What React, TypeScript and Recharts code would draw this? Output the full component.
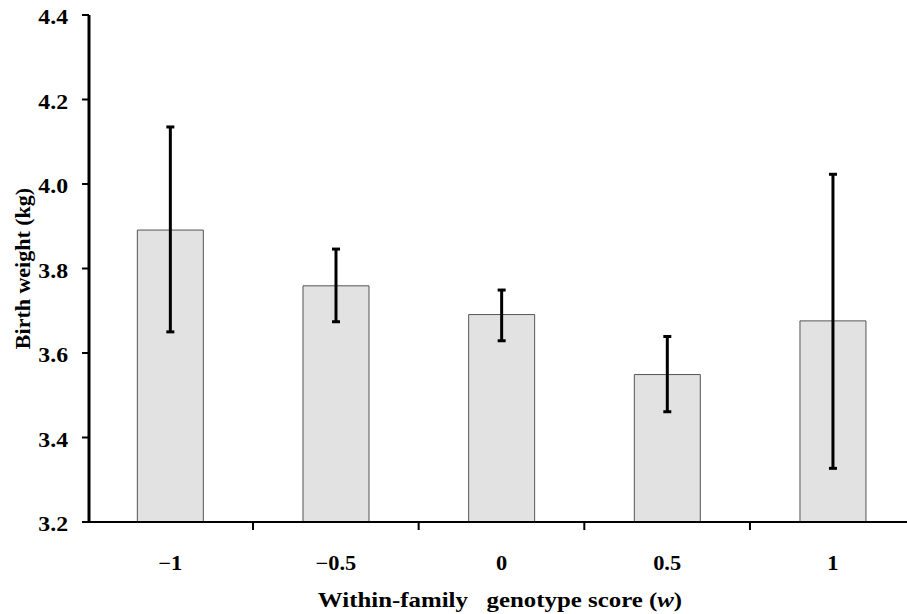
import React from 'react';
import { BarChart, Bar, XAxis, YAxis, ErrorBar, Label } from 'recharts';

const categories = [-1, -0.5, 0, 0.5, 1];
const categoryLabels = ['\u22121', '\u22120.5', '0', '0.5', '1'];
const boundaryTicks = [-0.75, -0.25, 0.25, 0.75];
const meanWeight = [3.891, 3.759, 3.691, 3.549, 3.676];
const errLow = [3.65, 3.674, 3.629, 3.461, 3.327];
const errHigh = [4.135, 3.846, 3.749, 3.639, 4.023];
const yTicks = [3.2, 3.4, 3.6, 3.8, 4.0, 4.2, 4.4];

const data = categories.map((c, i) => ({
  w: c,
  weight: meanWeight[i],
  err: [meanWeight[i] - errLow[i], errHigh[i] - meanWeight[i]],
}));

const txt: React.CSSProperties = { fontFamily: 'Liberation Serif', fontWeight: 700 };

const XTick = (props: any) => {
  const { x, y, payload } = props;
  const v = payload.value;
  const idx = categories.indexOf(v);
  if (idx < 0) {
    return <line x1={x} y1={y} x2={x} y2={y + 8} stroke="#000" strokeWidth={2} />;
  }
  return (
    <text transform={`translate(${x} ${y + 34}) scale(1.12 1)`} x={0} y={0} dy="0.71em" textAnchor="middle" style={txt} fontSize={20} fill="#000">
      {categoryLabels[idx]}
    </text>
  );
};

const YTick = (props: any) => {
  const { x, y, payload } = props;
  return (
    <text transform={`translate(${x} ${y}) scale(1.08 1)`} x={0} y={0} dy="0.42em" textAnchor="end" style={txt} fontSize={22} fill="#000">
      {Number(payload.value).toFixed(1)}
    </text>
  );
};

export default function App() {
  return (
    <div style={{ position: 'absolute', left: 0, top: 0, background: '#fff' }}>
      <BarChart width={907} height={614} data={data} margin={{ top: 15, right: 0, left: 0, bottom: 0 }}>
        <XAxis
          dataKey="w"
          type="number"
          domain={[-1.245, 1.224]}
          ticks={[...categories, ...boundaryTicks].sort((a, b) => a - b)}
          interval={0}
          tick={<XTick />}
          tickLine={false}
          tickSize={0}
          tickMargin={0}
          height={92}
          axisLine={{ stroke: '#000', strokeWidth: 2 }}
          allowDataOverflow
        >
          <Label
            content={(p: any) => {
              const vb = p.viewBox;
              const lx = vb.x + vb.width / 2 + 2;
              const ly = vb.y + vb.height - 7;
              return (
                <text transform={`translate(${lx} ${ly}) scale(1.13 1)`} x={0} y={0} textAnchor="middle" style={{ ...txt, whiteSpace: 'pre' }} fontSize={22} fill="#000">
                  <tspan>{'Within-family   genotype score ('}</tspan>
                  <tspan fontStyle="italic">w</tspan>
                  <tspan>)</tspan>
                </text>
              );
            }}
          />
        </XAxis>
        <YAxis
          type="number"
          domain={[3.2, 4.4]}
          ticks={yTicks}
          interval={0}
          width={89}
          tickSize={7}
          tickMargin={14}
          tick={<YTick />}
          tickLine={{ stroke: '#000', strokeWidth: 2 }}
          axisLine={{ stroke: '#000', strokeWidth: 3 }}
          allowDataOverflow
        >
          <Label
            content={(p: any) => {
              const vb = p.viewBox;
              const cx = 22;
              const cy = vb.y + vb.height / 2;
              return (
                <text x={cx} y={cy} transform={`rotate(-90 ${cx} ${cy})`} textAnchor="middle" dominantBaseline="central" style={txt} fontSize={22} fill="#000">
                  Birth weight (kg)
                </text>
              );
            }}
          />
        </YAxis>
        <Bar dataKey="weight" barSize={66} fill="#e2e2e2" stroke="#555" strokeWidth={1} isAnimationActive={false}>
          <ErrorBar dataKey="err" direction="y" width={4} stroke="#000" strokeWidth={3} isAnimationActive={false} />
        </Bar>
      </BarChart>
    </div>
  );
}
